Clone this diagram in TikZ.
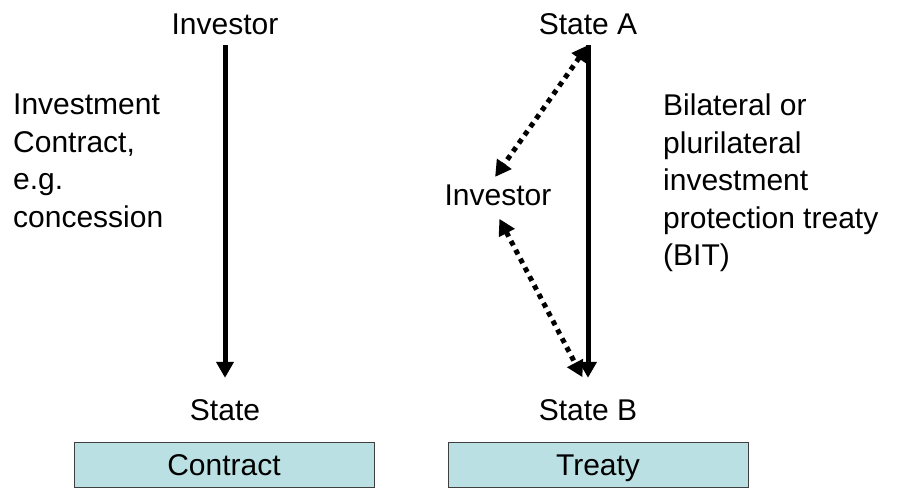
\documentclass[tikz,border=0pt]{standalone}
\usepackage{fontspec}
\setmainfont{Liberation Sans}
\usepackage{xcolor}
\usetikzlibrary{arrows.meta,positioning}
\definecolor{boxfill}{HTML}{BBE0E3}
\definecolor{boxline}{HTML}{3F3F3F}
\tikzset{
  lbl/.style={font=\fontsize{30}{37.5}\selectfont, inner xsep=0pt, inner ysep=11pt, text height=21pt, text depth=0pt},
  para/.style={font=\fontsize{30}{37.5}\selectfont, inner sep=0pt, align=left, anchor=north west},
  link/.style={line width=5pt, -{Triangle[length=16pt,width=17pt]}},
  dotlink/.style={line width=5pt, dash pattern=on 5pt off 5pt, {Triangle[length=16pt,width=17pt]}-{Triangle[length=16pt,width=17pt]}},
  kindbox/.style={draw=boxline, line width=1pt, fill=boxfill, font=\fontsize{30}{37.5}\selectfont, minimum width=300pt, minimum height=45pt, inner sep=0pt, text height=21pt, text depth=0pt}
}
\begin{document}
\begin{tikzpicture}[x=1pt,y=-1pt]
        \useasboundingbox (0,0) rectangle (897,488);

        % Contract side
        \node[lbl] (inv) at (225,23.5) {Investor};
        \node[lbl] (st) at (225,409.5) {State};
        \draw[link, shorten >=10pt] (inv.south) -- (st.north);
        \node[para] (contxt) at (13,94) {Investment\\Contract,\\e.g.\\concession};

        % Treaty side
        \node[lbl] (sa) at (588,23.5) {State A};
        \node[lbl] (sb) at (588,409.5) {State B};
        \node[lbl] (inv2) at (498,194.5) {Investor};
        \draw[link, shorten >=10pt] (sa.south) -- (sb.north);
        \draw[dotlink, shorten >=-5pt] (sa.south) -- (inv2.north);
        \draw[dotlink, shorten <=3pt, shorten >=12pt] (inv2.south) -- (sb.north);
        \node[para] (bittxt) at (663,94) {Bilateral or\\plurilateral\\investment\\protection treaty\\(BIT)};

        % Boxes at the bottom
        \node[kindbox] (cbox) at (224,464.5) {Contract};
        \node[kindbox] (tbox) at (598,464.5) {Treaty};
\end{tikzpicture}
\end{document}
